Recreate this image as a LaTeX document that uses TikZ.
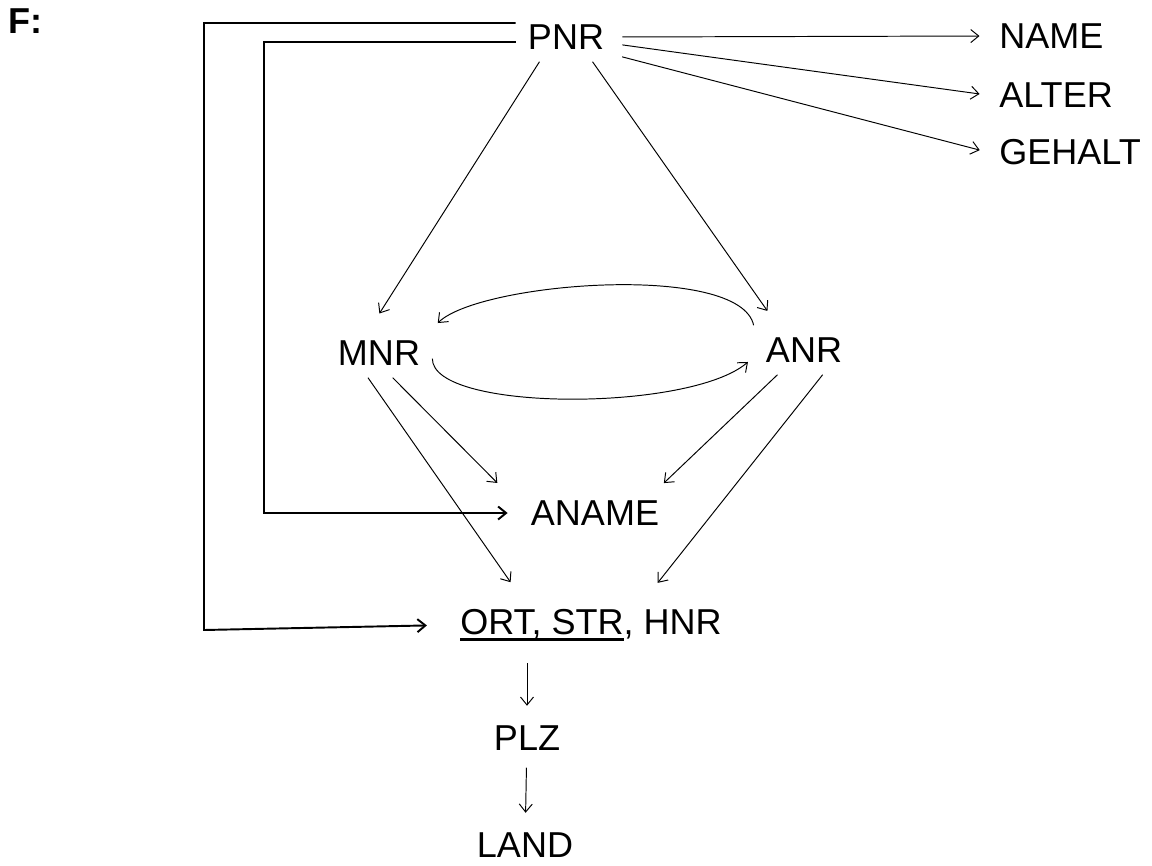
\documentclass[tikz,border=0pt]{standalone}
\usepackage{fontspec}
\setmainfont{Liberation Sans}
\usepackage{tikz}
\usetikzlibrary{arrows.meta,calc,positioning}
% dicke Unterstreichung fuer den Schluessel
\newcommand{\schluessel}[1]{\setbox0\hbox{#1}\rlap{\rule[-4pt]{\wd0}{1.8pt}}\box0}

\begin{document}
\begin{tikzpicture}[x=0.02cm,y=-0.02cm,
  attr/.style={inner sep=0.24cm,font=\fontsize{20.5}{24}\selectfont},
  arr/.style={-{Straight Barb[length=1.6mm,width=2.6mm]},line width=0.55pt,shorten >=0.15cm},
  bracket/.style={arr,line width=1.1pt}]
\useasboundingbox (0,0) rectangle (1152,865);
\node[attr,font=\fontsize{20.5}{24}\selectfont\bfseries] (flabel) at (25,21) {F:};
\node[attr] (pnr) at (566,37) {PNR};
\node[attr,anchor=west] (name) at (987,36) {NAME};
\node[attr,anchor=west] (alter) at (987,95) {ALTER};
\node[attr,anchor=west] (gehalt) at (987,152) {GEHALT};
\node[attr] (mnr) at (379,353) {MNR};
\node[attr] (anr) at (804,350) {ANR};
\node[attr] (aname) at (595,513) {ANAME};
\node[attr] (ort) at (591,625) {\schluessel{ORT, STR}, HNR};
\node[attr] (plz) at (527,738) {PLZ};
\node[attr] (land) at (525,845) {LAND};
% PNR nach rechts
\draw[arr,shorten <=0.12cm] (pnr.east) -- (name.west);
\draw[arr,shorten <=0.12cm] (pnr.-8) -- (alter.west);
\draw[arr,shorten <=0.12cm] (pnr.-20) -- (gehalt.west);
% PNR nach unten
\draw[arr,shorten >=0.35cm] (pnr.-137) -- (mnr.110);
\draw[arr,shorten >=0.35cm] (pnr.-43) -- (anr.137);
% MNR <-> ANR
\draw[arr] (mnr.-6) .. controls (432,412) and (690,412) .. (anr.-172);
\draw[arr] (anr.north west) .. controls (740,262) and (480,282) .. (mnr.north east);
% nach ANAME und ORT
\draw[arr] (mnr.-61) -- ($(aname.north west)+(-16,0)$);
\draw[arr] (anr.-137) -- ($(aname.north east)+(-13,0)$);
\draw[arr,shorten >=0.35cm] (mnr.-114) -- (ort.158);
\draw[arr,shorten >=0.35cm] (anr.-53) -- (ort.27);
\draw[arr,shorten <=0.2cm] (ort.south -| plz.north) -- (plz.north);
\draw[arr,shorten <=0.1cm] (plz) -- (land);
% Klammern links
\coordinate (outer) at (204,630);
\coordinate (inner) at (264,0);
\draw[bracket,shorten >=0.42cm] ($(pnr.west)+(0,-14)$) -| (outer) -- (ort.west);
\draw[bracket,shorten >=0.22cm] ($(pnr.west)+(0,5)$) -| (inner |- aname.west) -- (aname.west);
\end{tikzpicture}
\end{document}
